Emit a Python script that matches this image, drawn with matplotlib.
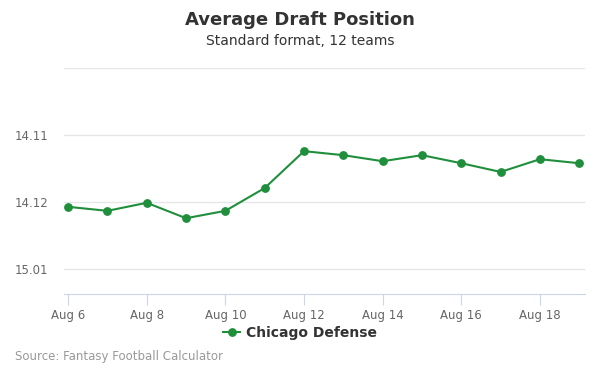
import numpy as np
import pandas as pd
import matplotlib
matplotlib.use("Agg")
import matplotlib.pyplot as plt
import matplotlib.dates as mdates
from matplotlib.ticker import FuncFormatter

# overall pick number (12 teams): 167 = 14.11, 168 = 14.12, 169 = 15.01
dates = pd.date_range("2023-08-06", "2023-08-19", freq="D")
adp = [168.07, 168.13, 168.01, 168.24, 168.13, 167.79, 167.24,
       167.30, 167.39, 167.30, 167.42, 167.55, 167.36, 167.42]
series_name = "Chicago Defense"
y_ticks = [166, 167, 168, 169]
teams = 12

def pick_label(v, pos):
    v = int(round(v))
    if v == 166:
        return ""
    rnd = (v - 1) // teams + 1
    pk = (v - 1) % teams + 1
    return f"{rnd}.{pk:02d}" if pk < 10 else f"{rnd}.{pk}"

fig = plt.figure(figsize=(6, 3.75), dpi=100)
ax = fig.add_axes([64 / 600, 1 - 294 / 375, 521 / 600, 226 / 375])

green = "#1f8f3c"
ax.plot(dates, adp, color=green, lw=1.5, marker="o", ms=5.3, label=series_name, zorder=3)

ax.set_ylim(169.37, 166)
ax.set_yticks(y_ticks)
ax.yaxis.set_major_formatter(FuncFormatter(pick_label))
ax.grid(axis="y", color="#e6e6e6", lw=1)
ax.set_axisbelow(True)

ax.set_xlim(dates[0] - pd.Timedelta(hours=2.5), dates[-1] + pd.Timedelta(hours=3.5))
ax.xaxis.set_major_locator(mdates.DayLocator(bymonthday=range(6, 20, 2)))
ax.xaxis.set_major_formatter(FuncFormatter(lambda v, p: "Aug " + str(mdates.num2date(v).day)))

for s in ["top", "right", "left"]:
    ax.spines[s].set_visible(False)
ax.spines["bottom"].set_color("#ccd6eb")
ax.tick_params(axis="x", colors="#ccd6eb", length=8, labelcolor="#666666", labelsize=8.5, pad=3)
ax.tick_params(axis="y", length=0, labelcolor="#666666", labelsize=8.5, pad=11.5)

fig.text(0.5, 1 - 20 / 375, "Average Draft Position", ha="center", va="center",
         fontsize=13, fontweight="bold", color="#333333")
fig.text(0.5, 1 - 41 / 375, "Standard format, 12 teams", ha="center", va="center",
         fontsize=10, color="#333333")
fig.text(15 / 600, 1 - 356.5 / 375, "Source: Fantasy Football Calculator", ha="left", va="center",
         fontsize=8.5, color="#999999")

leg = fig.legend(loc="center", bbox_to_anchor=(0.5, 1 - 332.5 / 375), frameon=False,
                 handlelength=1.2, handletextpad=0.4, prop={"weight": "bold", "size": 10})
for t in leg.get_texts():
    t.set_color("#333333")

fig.savefig("out.png", dpi=100)
